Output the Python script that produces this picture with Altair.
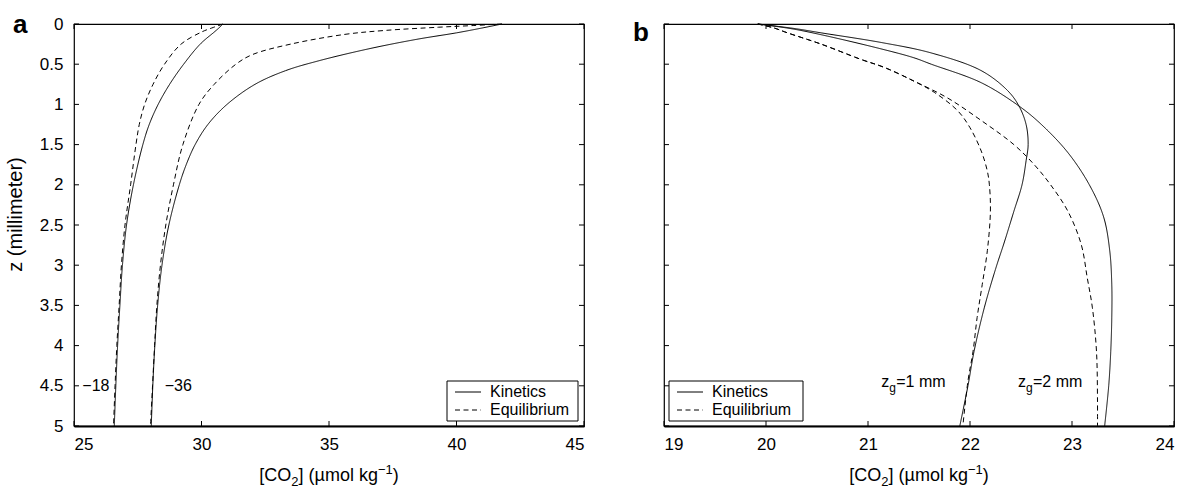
import altair as alt
import pandas as pd

# ---------------- Panel a data ([CO2] vs depth z) ----------------
a18_kin_z = [0, 0.05, 0.1, 0.25, 0.5, 0.75, 1, 1.25, 1.5, 2, 2.5, 3, 3.5, 4, 4.5, 5]
a18_kin_c = [30.84, 30.68, 30.5, 29.95, 29.3, 28.75, 28.3, 27.95, 27.7, 27.33, 27.06, 26.9, 26.8, 26.71, 26.64, 26.58]
a18_eq_z = [0, 0.05, 0.1, 0.25, 0.5, 0.75, 1, 1.25, 1.5, 2, 2.5, 3, 3.5, 4, 4.5, 5]
a18_eq_c = [30.84, 30.4, 30.0, 29.2, 28.55, 28.1, 27.77, 27.56, 27.43, 27.22, 27.0, 26.86, 26.77, 26.68, 26.61, 26.55]
a36_kin_z = [0, 0.05, 0.11, 0.19, 0.31, 0.46, 0.58, 0.75, 1, 1.25, 1.5, 1.75, 2, 2.5, 3, 3.5, 4, 4.5, 5]
a36_kin_c = [41.78, 41.0, 40.0, 38.45, 36.54, 34.57, 33.3, 32.1, 31.0, 30.25, 29.75, 29.4, 29.13, 28.72, 28.45, 28.28, 28.17, 28.09, 28.03]
a36_eq_z = [0, 0.02, 0.04, 0.08, 0.13, 0.25, 0.38, 0.5, 0.75, 1, 1.5, 2, 2.5, 3, 3.5, 4, 4.5, 5]
a36_eq_c = [41.78, 40.6, 39.3, 37.2, 35.6, 33.5, 32.0, 31.35, 30.5, 29.9, 29.27, 28.9, 28.6, 28.39, 28.25, 28.16, 28.08, 28.0]

a_xticks = [25, 30, 35, 40, 45]
a_labels_c = [25.86, 29.09]
a_labels_z = [4.5, 4.5]
a_labels_t = ["\u221218", "\u221236"]

# ---------------- Panel b data ----------------
b1_kin_z = [0, 0.03, 0.06, 0.11, 0.23, 0.36, 0.58, 0.83, 1.02, 1.25, 1.5, 1.7, 2.0, 2.33, 2.7, 3.05, 3.53, 4.07, 4.5, 5]
b1_kin_c = [19.92, 20.12, 20.3, 20.54, 21.13, 21.62, 22.11, 22.37, 22.48, 22.55, 22.57, 22.55, 22.51, 22.43, 22.34, 22.25, 22.14, 22.04, 21.98, 21.9]
b2_kin_z = [0, 0.03, 0.07, 0.15, 0.31, 0.42, 0.5, 0.73, 1.02, 1.25, 1.6, 2.0, 2.4, 2.82, 3.24, 3.65, 4.07, 4.5, 5]
b2_kin_c = [19.92, 20.1, 20.3, 20.6, 21.13, 21.45, 21.62, 22.11, 22.48, 22.70, 22.96, 23.17, 23.31, 23.37, 23.39, 23.39, 23.38, 23.36, 23.32]
b1_eq_z = [0, 0.05, 0.11, 0.25, 0.44, 0.54, 0.71, 0.85, 1.08, 1.29, 1.58, 1.83, 2.0, 2.33, 2.82, 3.24, 3.65, 4.07, 4.44, 5]
b1_eq_c = [19.92, 20.08, 20.21, 20.54, 20.93, 21.16, 21.45, 21.65, 21.88, 22.0, 22.11, 22.17, 22.19, 22.2, 22.17, 22.12, 22.07, 22.03, 21.98, 21.93]
b2_eq_z = [0, 0.05, 0.11, 0.25, 0.44, 0.54, 0.71, 0.92, 1.2, 1.5, 1.75, 2.0, 2.33, 2.74, 3.16, 3.53, 4.07, 4.69, 5]
b2_eq_c = [19.92, 20.08, 20.21, 20.54, 20.93, 21.16, 21.45, 21.78, 22.11, 22.43, 22.63, 22.79, 22.96, 23.09, 23.15, 23.2, 23.24, 23.25, 23.25]

b_xticks = [19, 20, 21, 22, 23, 24]
b_labels_c = [21.13, 22.47]
b_labels_z = [4.52, 4.52]
b_labels_rest = ["=1 mm", "=2 mm"]

y_ticks = [0, 0.5, 1, 1.5, 2, 2.5, 3, 3.5, 4, 4.5, 5]
legend_names = ["Kinetics", "Equilibrium"]

# x-axis title pieces: text, font size, baseline shift, advance width in em
x_title_pieces = [("[CO", 18, 0, 1.778), ("2", 13, 5, 0.556), ("] (\u00b5mol kg", 18, 0, 4.41),
                  ("\u22121", 13, -7, 1.14), (")", 18, 0, 0.333)]

# ---------------- helpers ----------------
W, H = 510, 402
FONT = "Liberation Sans"


def series_df(items):
    rows = []
    for name, model, zs, cs in items:
        for z, c in zip(zs, cs):
            rows.append({"series": name, "model": model, "z": z, "c": c})
    return pd.DataFrame(rows)


dash_scale = alt.Scale(domain=legend_names, range=[[1, 0], [5, 3.5]])
one = pd.DataFrame({"k": [0]})


def text_at(x, y, s, size, **kw):
    return alt.Chart(one).mark_text(font=FONT, color="black", fontSize=size, **kw).encode(
        x=alt.value(x), y=alt.value(y), text=alt.value(s))


def x_title_layers():
    total = sum(sz * em for _, sz, _, em in x_title_pieces)
    x = W / 2 - total / 2
    out = []
    for s, sz, dy, em in x_title_pieces:
        out.append(text_at(x, H + 55 + dy, s, sz, align="left", baseline="alphabetic"))
        x += sz * em
    return out


def panel(df, xdom, xticks, show_y, letter, letter_xy, legend_x, legend_w):
    xs = alt.Scale(domain=xdom, nice=False, zero=False)
    ys = alt.Scale(domain=[0, 5], reverse=True, nice=False, zero=False)
    xaxis = alt.Axis(values=xticks, title=None, tickSize=0, labelPadding=10,
                     labelFontSize=17, labelFont=FONT, labelColor="black", grid=False,
                     domain=True, domainWidth=2, domainColor="black", format="~g")
    if show_y:
        yaxis = alt.Axis(values=y_ticks, title="z (millimeter)", tickSize=0,
                         labelPadding=11, titlePadding=14, labelFontSize=17,
                         titleFontSize=20, labelFont=FONT, titleFont=FONT,
                         titleFontWeight="normal", labelColor="black", titleY=190,
                         titleColor="black", grid=False, domain=False, format="~g")
    else:
        yaxis = None

    def X(field):
        return alt.X(field, scale=xs, axis=xaxis)

    def Y(field):
        return alt.Y(field, scale=ys, axis=yaxis)

    lines = alt.Chart(df).mark_line(color="black", strokeWidth=1,
                                    interpolate="catmull-rom").encode(
        x=X("c:Q"),
        y=Y("z:Q"),
        detail="series:N",
        order=alt.Order("z:Q"),
        strokeDash=alt.StrokeDash("model:N", scale=dash_scale, legend=None),
    )

    xt = pd.DataFrame({"c": xticks})
    yt = pd.DataFrame({"z": y_ticks})
    top = alt.Chart(xt).mark_rule(color="black", strokeWidth=1).encode(
        x=X("c:Q"), y=alt.value(0), y2=alt.value(5))
    bottom = alt.Chart(xt).mark_rule(color="black", strokeWidth=1).encode(
        x=X("c:Q"), y=alt.value(H - 5), y2=alt.value(H))
    left = alt.Chart(yt).mark_rule(color="black", strokeWidth=1).encode(
        y=Y("z:Q"), x=alt.value(0), x2=alt.value(5))
    right = alt.Chart(yt).mark_rule(color="black", strokeWidth=1).encode(
        y=Y("z:Q"), x=alt.value(W - 5), x2=alt.value(W))

    lx = legend_x
    box = alt.Chart(one).mark_rect(fill="white", stroke="black", strokeWidth=1).encode(
        x=alt.value(lx), x2=alt.value(lx + legend_w), y=alt.value(357), y2=alt.value(397))
    l1 = alt.Chart(one).mark_rule(color="black", strokeWidth=1).encode(
        x=alt.value(lx + 8), x2=alt.value(lx + 34), y=alt.value(368))
    l2 = alt.Chart(one).mark_rule(color="black", strokeWidth=1, strokeDash=[5, 3.5]).encode(
        x=alt.value(lx + 8), x2=alt.value(lx + 34), y=alt.value(386))
    t1 = text_at(lx + 43, 368, legend_names[0], 16, align="left", baseline="middle")
    t2 = text_at(lx + 43, 386, legend_names[1], 16, align="left", baseline="middle")

    let = text_at(letter_xy[0], letter_xy[1], letter, 26, align="left",
                  baseline="alphabetic", fontWeight="bold")

    layers = [lines, top, bottom, left, right, box, l1, l2, t1, t2, let] + x_title_layers()
    return layers, X, Y


# ---------------- panel a ----------------
df_a = series_df([
    ("k18", "Kinetics", a18_kin_z, a18_kin_c),
    ("e18", "Equilibrium", a18_eq_z, a18_eq_c),
    ("k36", "Kinetics", a36_kin_z, a36_kin_c),
    ("e36", "Equilibrium", a36_eq_z, a36_eq_c),
])
layers_a, Xa, Ya = panel(df_a, [25, 45], a_xticks, True, "a", (-61, 9), 373, 131)
lab_a = alt.Chart(pd.DataFrame({"c": a_labels_c, "z": a_labels_z, "t": a_labels_t})).mark_text(
    align="center", baseline="middle", fontSize=16, font=FONT, color="black").encode(
    x=Xa("c:Q"), y=Ya("z:Q"), text="t:N")
panel_a = alt.layer(*layers_a, lab_a).properties(width=W, height=H)

# ---------------- panel b ----------------
df_b = series_df([
    ("k1", "Kinetics", b1_kin_z, b1_kin_c),
    ("k2", "Kinetics", b2_kin_z, b2_kin_c),
    ("e1", "Equilibrium", b1_eq_z, b1_eq_c),
    ("e2", "Equilibrium", b2_eq_z, b2_eq_c),
])
layers_b, Xb, Yb = panel(df_b, [19, 24], b_xticks, False, "b", (-31, 17), 5, 134)
lab_df = pd.DataFrame({"c": b_labels_c, "z": b_labels_z, "rest": b_labels_rest})
zt = alt.Chart(lab_df).mark_text(align="left", baseline="alphabetic", fontSize=16,
                                 font=FONT, color="black").encode(
    x=Xb("c:Q"), y=Yb("z:Q"), text=alt.value("z"))
gt = alt.Chart(lab_df).mark_text(align="left", baseline="alphabetic", fontSize=12,
                                 font=FONT, color="black", dx=8, dy=4.5).encode(
    x=Xb("c:Q"), y=Yb("z:Q"), text=alt.value("g"))
rt = alt.Chart(lab_df).mark_text(align="left", baseline="alphabetic", fontSize=16,
                                 font=FONT, color="black", dx=15).encode(
    x=Xb("c:Q"), y=Yb("z:Q"), text="rest:N")
panel_b = alt.layer(*layers_b, zt, gt, rt).properties(width=W, height=H)

chart = alt.hconcat(panel_a, panel_b, spacing=80, bounds="flush").properties(
    padding={"left": 4, "top": 11, "right": 0, "bottom": 0}
).configure_view(stroke="black", strokeWidth=1.2)

chart.save("out.html", embed_options={"renderer": "svg", "actions": False})
